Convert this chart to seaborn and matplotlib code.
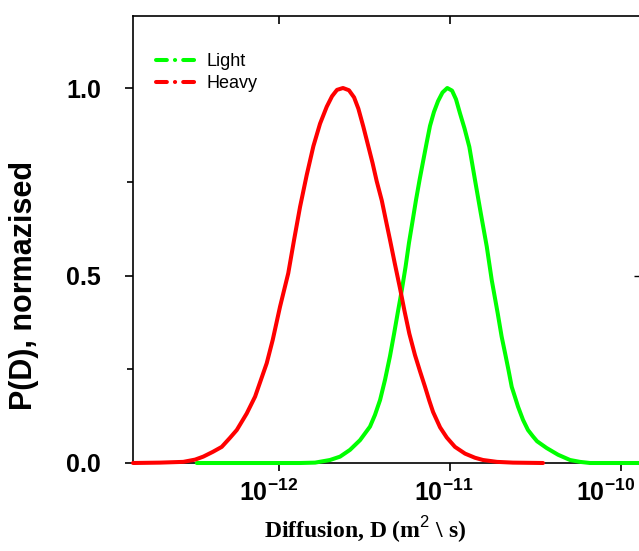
import matplotlib
matplotlib.use("Agg")
import matplotlib.pyplot as plt
import matplotlib.transforms as mtransforms
from matplotlib.lines import Line2D
from matplotlib.ticker import FixedLocator, NullLocator, FixedFormatter
import numpy as np
import pandas as pd
import seaborn as sns

# ---- data (log10 of D, normalized P(D)) ----
light_logD = [-12.481, -11.877, -11.789, -11.702, -11.643, -11.585, -11.526, -11.468,
              -11.439, -11.409, -11.380, -11.351, -11.327, -11.304, -11.282, -11.260,
              -11.240, -11.219, -11.199, -11.178, -11.158, -11.137, -11.117, -11.094,
              -11.070, -11.044, -11.016, -10.988, -10.965, -10.942, -10.915, -10.887,
              -10.854, -10.820, -10.785, -10.756, -10.721, -10.698, -10.678, -10.658,
              -10.639, -10.620, -10.602, -10.573, -10.544, -10.515, -10.491, -10.435,
              -10.368, -10.298, -10.240, -10.181, -9.895]
light_P = [0.000, 0.000, 0.001, 0.008, 0.017, 0.035, 0.061, 0.097,
           0.128, 0.168, 0.222, 0.285, 0.345, 0.405, 0.461, 0.523,
           0.587, 0.645, 0.701, 0.755, 0.803, 0.853, 0.899, 0.936,
           0.965, 0.988, 1.000, 0.993, 0.970, 0.933, 0.892, 0.843,
           0.755, 0.666, 0.577, 0.488, 0.399, 0.337, 0.293, 0.248,
           0.203, 0.176, 0.150, 0.115, 0.088, 0.071, 0.058, 0.040,
           0.022, 0.008, 0.003, 0.000, 0.000]

heavy_logD = [-12.854, -12.696, -12.560, -12.491, -12.443, -12.386, -12.335, -12.287,
              -12.247, -12.189, -12.140, -12.072, -12.037, -11.994, -11.946, -11.912,
              -11.877, -11.838, -11.799, -11.760, -11.721, -11.690, -11.661, -11.626,
              -11.591, -11.561, -11.536, -11.507, -11.478, -11.453, -11.429, -11.399,
              -11.374, -11.351, -11.322, -11.292, -11.266, -11.238, -11.205, -11.175,
              -11.146, -11.121, -11.099, -11.058, -11.019, -10.971, -10.912, -10.854,
              -10.807, -10.725, -10.632, -10.456]
heavy_P = [0.000, 0.001, 0.003, 0.009, 0.017, 0.030, 0.043, 0.067,
           0.088, 0.132, 0.177, 0.266, 0.328, 0.417, 0.506, 0.595,
           0.683, 0.768, 0.845, 0.905, 0.950, 0.978, 0.995, 1.000,
           0.994, 0.975, 0.945, 0.897, 0.845, 0.800, 0.752, 0.700,
           0.645, 0.595, 0.530, 0.465, 0.405, 0.345, 0.288, 0.244,
           0.203, 0.166, 0.136, 0.095, 0.068, 0.043, 0.025, 0.014,
           0.008, 0.003, 0.001, 0.000]

series_names = ["Light", "Heavy"]
series_colors = ["#00FF00", "#FF0000"]
x_tick_values = [1e-12, 1e-11, 1e-10]
x_tick_labels = [r"$\mathbf{10^{-12}}$", r"$\mathbf{10^{-11}}$", r"$\mathbf{10^{-10}}$"]
y_tick_values = [0.0, 0.5, 1.0]
y_tick_labels = ["0.0", "0.5", "1.0"]
y_minor_values = [0.25, 0.75]

df = pd.concat([
    pd.DataFrame({"D": np.power(10.0, light_logD), "P": light_P, "sample": "Light"}),
    pd.DataFrame({"D": np.power(10.0, heavy_logD), "P": heavy_P, "sample": "Heavy"}),
], ignore_index=True)

sns.set_style("white")
plt.rcParams["font.family"] = ["Liberation Sans", "DejaVu Sans"]
plt.rcParams["mathtext.fontset"] = "custom"
plt.rcParams["mathtext.bf"] = "Liberation Sans:bold"
plt.rcParams["mathtext.rm"] = "Liberation Sans"
for key in ["text.color", "axes.labelcolor", "xtick.color", "ytick.color", "axes.edgecolor"]:
    plt.rcParams[key] = "black"

W, H = 639, 551
fig = plt.figure(figsize=(W / 100, H / 100), dpi=100)
ax_left, ax_right, ax_top, ax_bottom = 133, 641, 16, 463
ax = fig.add_axes([ax_left / W, (H - ax_bottom) / H, (ax_right - ax_left) / W, (ax_bottom - ax_top) / H])

sns.lineplot(data=df, x="D", y="P", hue="sample", hue_order=series_names,
             palette=series_colors, linewidth=2.9, sort=False, ax=ax, legend=False)
for ln in ax.lines:
    ln.set_zorder(4)
    ln.set_clip_on(False)
    ln.set_solid_capstyle("round")
    ln.set_solid_joinstyle("round")

ax.set_xscale("log")
ax.set_xlim(10 ** -12.854, 10 ** -9.883)
ax.set_ylim(0, 1.192)

for side in ["left", "bottom", "top"]:
    ax.spines[side].set_visible(True)
    ax.spines[side].set_color("black")
    ax.spines[side].set_linewidth(1.2)
ax.spines["right"].set_visible(False)

ax.xaxis.set_major_locator(FixedLocator(x_tick_values))
ax.xaxis.set_major_formatter(FixedFormatter(x_tick_labels))
ax.xaxis.set_minor_locator(NullLocator())
ax.yaxis.set_major_locator(FixedLocator(y_tick_values))
ax.yaxis.set_major_formatter(FixedFormatter(y_tick_labels))
ax.yaxis.set_minor_locator(FixedLocator(y_minor_values))

ax.tick_params(axis="x", which="major", direction="out", length=6, width=1.2,
               color="black", pad=6, labelsize=18, bottom=True, top=False)
ax.tick_params(axis="y", which="major", direction="out", length=6, width=1.2,
               color="black", pad=17, labelsize=18, left=True)
ax.tick_params(axis="y", which="minor", direction="out", length=4, width=1.2,
               color="black", left=True)
for lab in ax.get_yticklabels():
    lab.set_fontweight("bold")

# shift x tick labels slightly left as in the reference
for lab, dx in zip(ax.get_xticklabels(), [-11, -6, -15]):
    off = mtransforms.ScaledTranslation(dx / 100, 0, fig.dpi_scale_trans)
    lab.set_transform(lab.get_transform() + off)

# top ticks pointing inward
sec_top = ax.secondary_xaxis("top")
sec_top.set_xticks(x_tick_values[:2])
sec_top.tick_params(axis="x", which="both", direction="in", length=6, width=1.2,
                    labeltop=False, color="black")
sec_top.xaxis.set_minor_locator(NullLocator())
sec_top.spines["top"].set_visible(False)

# right tick at 0.5
sec_right = ax.secondary_yaxis("right")
sec_right.set_yticks([0.5])
sec_right.tick_params(axis="y", which="both", direction="in", length=5, width=1.0,
                      labelright=False, color="black")
sec_right.yaxis.set_minor_locator(NullLocator())

ax.set_xlabel("Diffusion, D (m$^{2}$ \\ s)", fontsize=17, fontweight="bold",
              family=["Liberation Serif", "DejaVu Serif"])
ax.xaxis.label.set_va("center")
ax.xaxis.set_label_coords((365 - ax_left) / (ax_right - ax_left), -(530 - ax_bottom) / (ax_bottom - ax_top))

ax.set_ylabel("P(D), normazised", fontsize=22, fontweight="bold")
ax.yaxis.label.set_va("center")
ax.yaxis.set_label_coords((24 - ax_left) / (ax_right - ax_left), (ax_bottom - 285) / (ax_bottom - ax_top))

handles = [Line2D([0], [0], color=c, linewidth=2.9, dashes=(2.7, 2.0, 0.05, 2.0),
                  dash_capstyle="round") for c in series_colors]
ax.legend(handles, series_names, loc="upper left",
          bbox_to_anchor=((156 - ax_left) / (ax_right - ax_left), (ax_bottom - 53) / (ax_bottom - ax_top)),
          frameon=False, fontsize=13, handlelength=2.5, handletextpad=0.3,
          borderpad=0, borderaxespad=0, labelspacing=0.3)

fig.savefig("out.png", dpi=100)
